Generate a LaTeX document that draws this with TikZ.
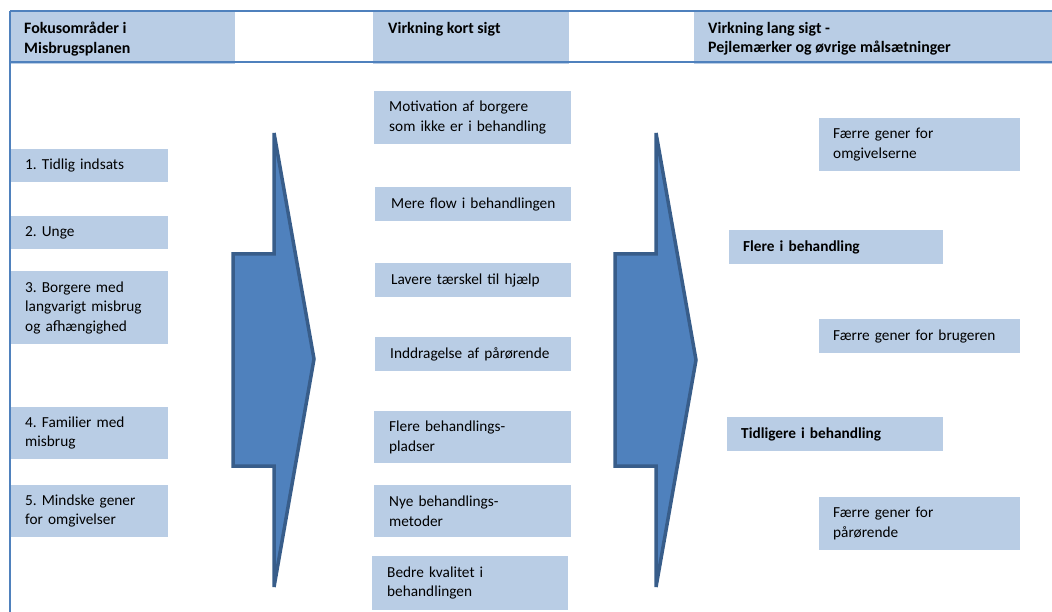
\documentclass[tikz,border=0pt]{standalone}
\usepackage{fontspec}
\setmainfont{Carlito}
\frenchspacing
\definecolor{boxblue}{HTML}{B9CDE5}
\definecolor{frameblue}{HTML}{4F81BD}
\definecolor{arrowfill}{HTML}{4F81BD}
\definecolor{arrowline}{HTML}{385D8A}
\newcommand{\bodyfont}{\fontsize{15.3}{19.5}\selectfont}
\begin{document}
\begin{tikzpicture}[x=1pt,y=-1pt,
  every node/.style={font=\bodyfont},
  box/.style={fill=boxblue, draw=none, anchor=north west, inner xsep=14pt,
    inner ysep=0pt, align=left},
  headtext/.style={anchor=north west, inner sep=0pt, align=left,
    font=\fontsize{15.9}{19.5}\selectfont\bfseries},
  frame/.style={draw=frameblue, line width=2pt},
  bigarrow/.style={fill=arrowfill, draw=arrowline, line width=3.5pt, line join=miter}]
\useasboundingbox (0,0) rectangle (1052,612);

% header bands
\fill[boxblue] (11,12) rectangle (235,64);
\fill[boxblue] (373,12) rectangle (569,64);
\fill[boxblue] (694,12) rectangle (1052,64);

% table frame
\draw[frame] (10,11) -- (1052,11);
\draw[frame] (10,62) -- (1052,62);
\draw[frame] (10,11) -- (10,612);

% header titles
\node[headtext] (h1) at (24,22) {Fokusområder i\\Misbrugsplanen};
\node[headtext] (h2) at (388,22) {Virkning kort sigt};
\node[headtext] (h3) at (708,22) {Virkning lang sigt -\\Pejlemærker og øvrige målsætninger};

% focus areas
\node[box, text width=129pt, minimum height=33pt] (l1) at (11,149) {1. Tidlig indsats};
\node[box, text width=129pt, minimum height=33pt] (l2) at (11,216) {2. Unge};
\node[box, text width=129pt, minimum height=73pt] (l3) at (11,271) {3. Borgere med\\langvarigt misbrug\\og afhængighed};
\node[box, text width=129pt, minimum height=52pt] (l4) at (11,407) {4. Familier med\\misbrug};
\node[box, text width=129pt, minimum height=52pt] (l5) at (11,485) {5. Mindske gener\\for omgivelser};

% short-term effects
\node[box, text width=167pt, inner xsep=15pt, minimum height=53pt] (m1) at (374,91) {Motivation af borgere\\som ikke er i behandling};
\node[box, text width=164pt, inner xsep=16pt, minimum height=34pt] (m2) at (375,187) {\mbox{Mere flow i behandlingen}};
\node[box, text width=164pt, inner xsep=16pt, minimum height=34pt] (m3) at (375,263) {\mbox{Lavere tærskel til hjælp}};
\node[box, text width=166pt, inner xsep=15pt, minimum height=34pt] (m4) at (375,337) {\mbox{Inddragelse af pårørende}};
\node[box, text width=167pt, inner xsep=15pt, minimum height=52pt] (m5) at (374,411) {Flere behandlings-\\pladser};
\node[box, text width=167pt, inner xsep=15pt, minimum height=52pt] (m6) at (374,485) {Nye behandlings-\\metoder};
\node[box, text width=166pt, inner xsep=15pt, minimum height=54pt] (m7) at (372,556) {Bedre kvalitet i\\behandlingen};

% long-term effects
\node[box, text width=173pt, minimum height=53pt] (r1) at (819,118) {Færre gener for\\omgivelserne};
\node[box, text width=186pt, minimum height=34pt, font=\bodyfont\bfseries] (r2) at (729,230) {Flere i behandling};
\node[box, text width=173pt, minimum height=34pt] (r3) at (819,319) {\mbox{Færre gener for brugeren}};
\node[box, text width=188pt, minimum height=34pt, font=\bodyfont\bfseries] (r4) at (727,417) {Tidligere i behandling};
\node[box, text width=173pt, minimum height=53pt] (r5) at (819,497) {Færre gener for\\pårørende};

% block arrows
\draw[bigarrow] (233,254) -- (274,254) -- (274,133) -- (314,359) -- (274,587) -- (274,466) -- (233,466) -- cycle;
\draw[bigarrow] (615,254) -- (656,254) -- (656,133) -- (696,360) -- (656,587) -- (656,466) -- (615,466) -- cycle;
\end{tikzpicture}
\end{document}
